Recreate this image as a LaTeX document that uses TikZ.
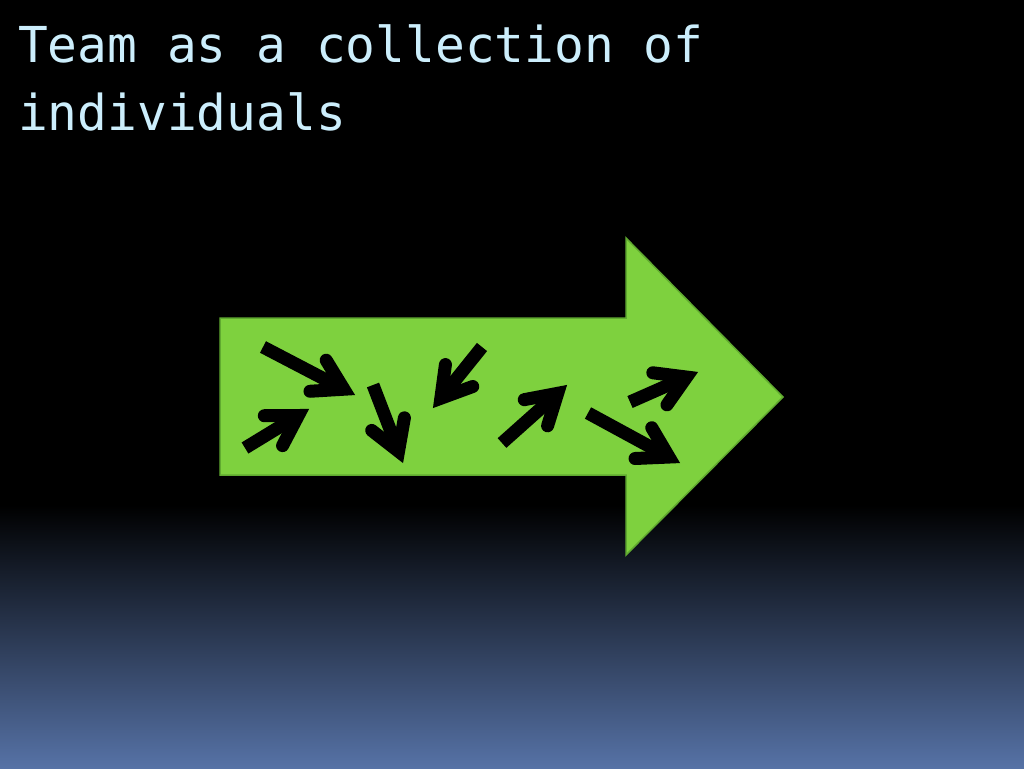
\documentclass[tikz,border=0pt]{standalone}
\usepackage{fontspec}
\usetikzlibrary{calc}
\newfontfamily\titlefont{DejaVu Sans Mono}
\definecolor{titlecol}{RGB}{204,238,252}
\definecolor{arrowgreen}{RGB}{126,209,62}
\definecolor{arrowedge}{RGB}{96,170,48}
\definecolor{bluebottom}{RGB}{86,114,166}
\definecolor{bluemid}{RGB}{40,52,78}
\tikzset{
  titletext/.style={text=titlecol, font=\titlefont\fontsize{49.5}{67}\selectfont, inner sep=0pt, anchor=base west},
  bigarrow/.style={fill=arrowgreen, draw=arrowedge, line width=1.5pt, line join=miter},
  shaftline/.style={line width=13pt, line cap=butt, black, shorten >=4pt},
  barbline/.style={line width=13pt, line cap=round, line join=miter, miter limit=10, black},
}
\newcommand\myarrow[3]{%
  \coordinate (#1s) at (#2);
  \coordinate (#1o) at (#3);
  \coordinate (#1t) at ($(#1o)!12.5pt!(#1s)$);
  \draw[shaftline] (#1s) -- (#1t);
  \draw[barbline] ($(#1t)!34pt!31:(#1s)$) -- (#1t) -- ($(#1t)!34pt!-31:(#1s)$);
}
\begin{document}
\begin{tikzpicture}[x=1pt,y=-1pt]
  \useasboundingbox (0,0) rectangle (1024,768);
  \fill[black] (0,0) rectangle (1024,768);
  \shade[top color=black, middle color=bluemid, bottom color=bluebottom] (0,505) rectangle (1024,768);
  \node[titletext] (title1) at (18,63) {Team as a collection of};
  \node[titletext] (title2) at (18,130) {individuals};
  \draw[bigarrow] (220,318) -- (626,318) -- (626,238) -- (783,397) -- (626,555) -- (626,475) -- (220,475) -- cycle;
  \myarrow{a}{263,347}{355,395}
  \myarrow{b}{245,448}{309,409}
  \myarrow{c}{373,385}{403,463}
  \myarrow{d}{482,347}{433,408}
  \myarrow{e}{502,443}{567,385}
  \myarrow{f}{630,402}{698,372}
  \myarrow{g}{588,413}{680,463}
\end{tikzpicture}
\end{document}
